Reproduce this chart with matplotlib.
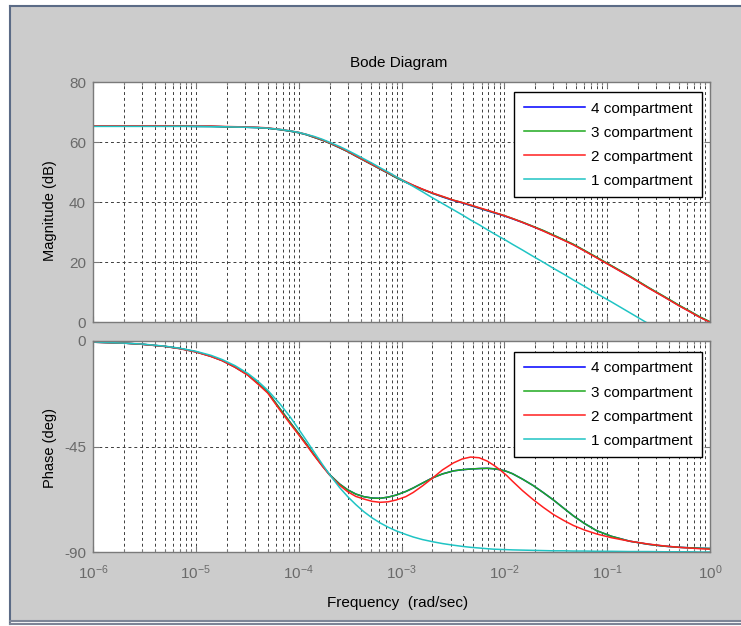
import matplotlib
matplotlib.use('Agg')
import numpy as np
import matplotlib.pyplot as plt
from matplotlib.ticker import LogLocator, FixedLocator, NullFormatter, LogFormatterMathtext
from matplotlib.lines import Line2D

plt.rcParams['font.family'] = ['Liberation Sans', 'DejaVu Sans']
plt.rcParams['mathtext.fontset'] = 'custom'
plt.rcParams['mathtext.rm'] = 'Liberation Sans'
plt.rcParams['mathtext.default'] = 'regular'
plt.rcParams['axes.unicode_minus'] = False

# ---------------- data ----------------
freq = [1e-6, 2e-6, 3e-6, 5e-6, 7e-6, 1e-5, 1.4e-5, 1.8e-5, 2.4e-5, 3.2e-5,
        4e-5, 5e-5, 6.6e-5, 8.3e-5, 1e-4, 1.2e-4,
        1.4e-4, 1.7e-4, 2e-4, 2.5e-4, 3e-4, 3.6e-4, 4.3e-4, 5.2e-4, 6.2e-4, 7.4e-4,
        8.9e-4, 1.1e-3, 1.3e-3, 1.6e-3, 2e-3, 2.5e-3, 3.2e-3, 3.9e-3, 4.7e-3, 5.7e-3,
        6.8e-3, 7.9e-3, 9.1e-3, 1.05e-2, 1.2e-2, 1.5e-2, 1.9e-2, 2.4e-2, 3e-2, 3.8e-2,
        4.7e-2, 6e-2, 7.9e-2, 0.11, 0.166, 0.25, 0.355, 0.5, 0.63, 0.8,
        1.0]

series_labels = ['4 compartment', '3 compartment', '2 compartment', '1 compartment']

mag_4 = [65.3, 65.3, 65.3, 65.3, 65.3, 65.2, 65.2, 65.1, 65.0, 64.9,
         64.8, 64.6, 64.1, 63.6, 63.1, 62.4,
         61.6, 60.6, 59.6, 58.1, 56.8, 55.3, 53.9, 52.4, 51.0, 49.6,
         48.1, 46.6, 45.5, 44.2, 42.9, 41.7, 40.5, 39.7, 38.8, 37.9,
         37.1, 36.4, 35.8, 35.1, 34.4, 33.2, 31.8, 30.4, 28.9, 27.3,
         25.8, 23.8, 21.5, 18.7, 15.2, 11.5, 8.5, 5.5, 3.6, 1.6,
         0.0]
mag_3 = [65.3, 65.3, 65.3, 65.3, 65.3, 65.2, 65.2, 65.1, 65.0, 64.9,
         64.8, 64.6, 64.1, 63.6, 63.1, 62.4,
         61.6, 60.6, 59.6, 58.1, 56.8, 55.3, 53.9, 52.4, 51.0, 49.6,
         48.1, 46.6, 45.5, 44.2, 42.9, 41.8, 40.6, 39.8, 38.9, 38.0,
         37.2, 36.5, 35.9, 35.2, 34.5, 33.3, 31.9, 30.5, 29.0, 27.4,
         25.9, 23.9, 21.6, 18.8, 15.3, 11.6, 8.6, 5.6, 3.7, 1.7,
         0.1]
mag_2 = [65.4, 65.4, 65.4, 65.4, 65.3, 65.3, 65.3, 65.2, 65.1, 65.0,
         64.9, 64.7, 64.2, 63.7, 63.2, 62.5,
         61.7, 60.7, 59.7, 58.2, 56.9, 55.4, 54.0, 52.5, 51.1, 49.7,
         48.3, 46.8, 45.6, 44.3, 43.0, 41.9, 40.6, 39.8, 39.0, 38.1,
         37.3, 36.6, 35.9, 35.2, 34.5, 33.2, 31.8, 30.3, 28.8, 27.2,
         25.7, 23.7, 21.4, 18.6, 15.1, 11.4, 8.4, 5.4, 3.5, 1.5,
         -0.1]
mag_1 = [65.2, 65.2, 65.2, 65.2, 65.2, 65.2, 65.1, 65.1, 65.0, 64.9,
         64.8, 64.6, 64.2, 63.7, 63.2, 62.5,
         61.9, 60.9, 59.9, 58.5, 57.2, 55.8, 54.4, 52.9, 51.4, 50.0,
         48.4, 46.6, 45.2, 43.4, 41.4, 39.5, 37.4, 35.7, 34.0, 32.4,
         30.8, 29.5, 28.3, 27.1, 25.9, 24.0, 21.9, 19.9, 17.9, 15.9,
         14.0, 11.9, 9.5, 6.7, 3.1, -0.5, -3.5, -6.5, -8.5, -10.6,
         -12.7]

phase_4 = [-0.5, -0.9, -1.4, -2.3, -3.2, -4.6, -6.5, -8.3, -11.1, -14.4,
           -18.0, -21.8, -29.0, -34.8, -39.5, -44.2,
           -48.3, -53.2, -57.0, -61.0, -63.5, -65.3, -66.4, -67.0, -67.1, -66.6,
           -65.7, -64.2, -62.7, -60.6, -58.4, -56.7, -55.4, -54.9, -54.6, -54.4,
           -54.3, -54.5, -54.9, -55.6, -56.6, -58.9, -61.6, -64.7, -67.8, -71.4,
           -74.6, -77.8, -80.9, -83.3, -85.4, -86.7, -87.5, -88.0, -88.2, -88.4,
           -88.5]
phase_3 = [-0.5, -0.9, -1.4, -2.3, -3.2, -4.6, -6.5, -8.3, -11.1, -14.4,
           -18.0, -21.8, -29.0, -34.8, -39.5, -44.2,
           -48.3, -53.2, -57.0, -61.0, -63.5, -65.3, -66.4, -67.0, -67.1, -66.6,
           -65.7, -64.2, -62.7, -60.6, -58.4, -56.7, -55.4, -54.9, -54.6, -54.4,
           -54.3, -54.5, -54.9, -55.6, -56.6, -58.9, -61.6, -64.7, -67.8, -71.4,
           -74.6, -77.8, -80.9, -83.3, -85.4, -86.7, -87.5, -88.0, -88.2, -88.4,
           -88.5]
phase_2 = [-0.5, -0.9, -1.4, -2.3, -3.3, -4.7, -6.6, -8.4, -11.2, -14.6,
           -18.3, -22.2, -29.6, -35.4, -40.0, -44.6,
           -48.6, -53.4, -57.2, -61.5, -64.3, -66.3, -67.4, -68.4, -68.8, -68.6,
           -67.8, -66.4, -64.6, -61.8, -58.5, -55.0, -52.0, -50.3, -49.5, -49.8,
           -51.2, -53.0, -55.0, -57.3, -59.8, -63.8, -67.6, -71.0, -74.0, -76.6,
           -78.7, -80.6, -82.3, -83.9, -85.4, -86.6, -87.4, -88.0, -88.3, -88.6,
           -88.8]
phase_1 = [-0.4, -0.9, -1.3, -2.2, -3.1, -4.4, -6.1, -7.9, -10.5, -13.8,
           -17.1, -21.0, -26.9, -32.5, -37.6, -42.7,
           -47.1, -52.6, -57.0, -62.5, -66.4, -69.8, -72.8, -75.5, -77.6, -79.4,
           -81.0, -82.5, -83.6, -84.7, -85.6, -86.4, -87.1, -87.6, -88.0, -88.3,
           -88.6, -88.8, -88.9, -89.0, -89.1, -89.2, -89.3, -89.4, -89.5, -89.5,
           -89.6, -89.6, -89.7, -89.7, -89.8, -89.8, -89.9, -89.9, -89.9, -90.0,
           -90.0]

colors = ['#0000ff', '#1faa1f', '#ff1f1f', '#1fc4c4']

mag_ticks = [0, 20, 40, 60, 80]
phase_ticks = [-90, -45, 0]
freq_ticks = [1e-6, 1e-5, 1e-4, 1e-3, 1e-2, 1e-1, 1e0]

# ---------------- figure ----------------
W, H = 741, 626
fig = plt.figure(figsize=(W / 100, H / 100), dpi=100, facecolor='white')

# window background and frame
fig.patches.append(plt.Rectangle((10 / W, 1 - 621 / H), 1, (621 - 6) / H,
                                 transform=fig.transFigure, facecolor='#cccccc',
                                 edgecolor='none', zorder=-10))
frame_col = '#5b6b86'
fig.add_artist(Line2D([10 / W, 1], [1 - 6 / H, 1 - 6 / H], color=frame_col, lw=1.5))
fig.add_artist(Line2D([10 / W, 10 / W], [1 - 6 / H, 1 - 624 / H], color=frame_col, lw=1.5))
fig.add_artist(Line2D([10 / W, 1], [1 - 620.5 / H, 1 - 620.5 / H], color='#7d8597', lw=1.5))
fig.add_artist(Line2D([10 / W, 1], [1 - 622.5 / H, 1 - 622.5 / H], color='#e8e8ee', lw=1.0))
fig.add_artist(Line2D([10 / W, 1], [1 - 624.3 / H, 1 - 624.3 / H], color='#7d8597', lw=1.5))

ax1 = fig.add_axes([93 / W, 1 - 322 / H, 617 / W, 240 / H])
ax2 = fig.add_axes([93 / W, 1 - 552 / H, 617 / W, 211 / H])

mags = [mag_4, mag_3, mag_2, mag_1]
phases = [phase_4, phase_3, phase_2, phase_1]

grid_kw = dict(linestyle=(0, (3, 3)), color='#3c3c3c', linewidth=0.7)
axis_gray = '#7a7a7a'

for ax, ys, ticks, lim in [(ax1, mags, mag_ticks, (0, 80)),
                           (ax2, phases, phase_ticks, (-90, 0))]:
    for y, c, lab in zip(ys, colors, series_labels):
        ax.plot(freq, y, color=c, lw=1.1, label=lab)
    ax.set_xscale('log')
    ax.set_xlim(1e-6, 1)
    ax.set_ylim(*lim)
    ax.yaxis.set_major_locator(FixedLocator(ticks))
    ax.xaxis.set_major_locator(FixedLocator(freq_ticks))
    ax.xaxis.set_minor_locator(LogLocator(base=10, subs=np.arange(2, 10), numticks=100))
    ax.xaxis.set_minor_formatter(NullFormatter())
    ax.set_facecolor('white')
    for s in ax.spines.values():
        s.set_color(axis_gray)
        s.set_linewidth(1.0)
    ax.tick_params(which='both', direction='in', top=True, right=True,
                   color=axis_gray, labelcolor='#6a6a6a', labelsize=11)
    ax.tick_params(which='major', length=4.5, width=0.8)
    ax.tick_params(which='minor', length=2.5, width=0.8)
    ax.grid(True, which='major', **grid_kw)
    ax.xaxis.grid(True, which='minor', **grid_kw)
    ax.set_axisbelow(True)
    leg = ax.legend(loc='upper right', bbox_to_anchor=(0.987, 0.958 if ax is ax1 else 0.948),
                    fontsize=11, frameon=True, fancybox=False, framealpha=1,
                    edgecolor='black', handlelength=4.0, handletextpad=0.4,
                    labelspacing=0.66, borderpad=0.62, borderaxespad=0.0)
    leg.get_frame().set_linewidth(1.0)

ax1.tick_params(axis='x', labelbottom=False)
ax2.xaxis.set_major_formatter(LogFormatterMathtext())
ax2.tick_params(axis='x', pad=8)
ax1.tick_params(axis='y', pad=5)
ax2.tick_params(axis='y', pad=5)

fig.text(399 / W, 1 - 63 / H, 'Bode Diagram', ha='center', va='center', fontsize=11, color='black')
fig.text(50 / W, 1 - 211 / H, 'Magnitude (dB)', ha='center', va='center', rotation=90, fontsize=10.5)
fig.text(50 / W, 1 - 448 / H, 'Phase (deg)', ha='center', va='center', rotation=90, fontsize=10.5)
fig.text(398 / W, 1 - 603 / H, 'Frequency  (rad/sec)', ha='center', va='center', fontsize=11)

fig.savefig('out.png', dpi=100, facecolor=fig.get_facecolor())
